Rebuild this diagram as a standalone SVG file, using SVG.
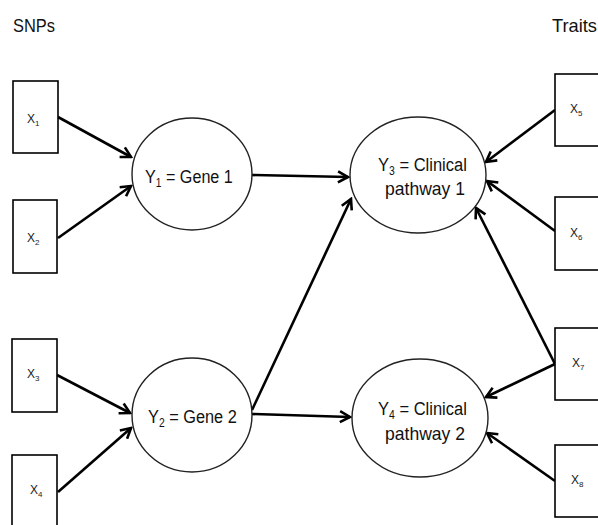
<svg xmlns="http://www.w3.org/2000/svg" width="598" height="525" viewBox="0 0 598 525">
<defs>
<marker id="arr" viewBox="-12 -7 14 14" refX="0" refY="0" markerWidth="14" markerHeight="14" markerUnits="userSpaceOnUse" orient="auto">
<path d="M-10,-5.5 L0,0 L-10,5.5" fill="none" stroke="#000" stroke-width="2.6" stroke-linejoin="miter"/>
</marker>
</defs>
<style>
.box{fill:#fff;stroke:#000;stroke-width:1.6}
.ell{fill:#fff;stroke:#222;stroke-width:1.4}
.lbl{font-family:"Liberation Sans",Arial,sans-serif;font-size:19px;fill:#111}
.xl{font-family:"Liberation Sans",Arial,sans-serif;font-size:12px;fill:#222}
.sub{font-size:12px}
.xsub{font-size:8px}
.edge{stroke:#000;stroke-width:2.6;fill:none;marker-end:url(#arr)}
</style>
<rect width="598" height="525" fill="#fff"/>
<text class="lbl" x="13" y="32" textLength="42" lengthAdjust="spacingAndGlyphs">SNPs</text>
<text class="lbl" x="552" y="32" textLength="45" lengthAdjust="spacingAndGlyphs">Traits</text>
<g id="connectors">
<line class="edge" x1="58" y1="117" x2="131" y2="157"/>
<line class="edge" x1="58" y1="238" x2="131" y2="186"/>
<line class="edge" x1="57" y1="375" x2="130" y2="413"/>
<line class="edge" x1="58" y1="492" x2="131" y2="428"/>
<line class="edge" x1="252" y1="175" x2="348" y2="177"/>
<line class="edge" x1="252" y1="410" x2="351" y2="199"/>
<line class="edge" x1="252" y1="414" x2="350" y2="417"/>
<line class="edge" x1="555" y1="110" x2="486" y2="162"/>
<line class="edge" x1="555" y1="231" x2="487" y2="181"/>
<line class="edge" x1="555" y1="364" x2="476" y2="208"/>
<line class="edge" x1="555" y1="364" x2="486" y2="397"/>
<line class="edge" x1="555" y1="481" x2="487" y2="433"/>
</g>
<g id="X1"><rect class="box" x="13" y="81" width="45" height="72"/><text class="xl" x="27" y="123">X<tspan class="xsub" dy="3">1</tspan></text></g>
<g id="X2"><rect class="box" x="13" y="200" width="44" height="73"/><text class="xl" x="27" y="242">X<tspan class="xsub" dy="3">2</tspan></text></g>
<g id="X3"><rect class="box" x="12" y="339" width="45" height="73"/><text class="xl" x="27" y="378">X<tspan class="xsub" dy="3">3</tspan></text></g>
<g id="X4"><rect class="box" x="12" y="455" width="45" height="75"/><text class="xl" x="30" y="494">X<tspan class="xsub" dy="3">4</tspan></text></g>
<g id="X5"><rect class="box" x="555" y="74" width="50" height="72"/><text class="xl" x="570" y="113">X<tspan class="xsub" dy="3">5</tspan></text></g>
<g id="X6"><rect class="box" x="555" y="197" width="50" height="73"/><text class="xl" x="570" y="237">X<tspan class="xsub" dy="3">6</tspan></text></g>
<g id="X7"><rect class="box" x="555" y="328" width="50" height="72"/><text class="xl" x="572" y="367">X<tspan class="xsub" dy="3">7</tspan></text></g>
<g id="X8"><rect class="box" x="555" y="445" width="50" height="72"/><text class="xl" x="571" y="484">X<tspan class="xsub" dy="3">8</tspan></text></g>
<g id="Y1"><ellipse class="ell" cx="192" cy="174" rx="60" ry="56"/><text class="lbl" transform="translate(145,183) scale(0.85,1)">Y<tspan class="sub" dy="4">1</tspan><tspan dy="-4"> = Gene 1</tspan></text></g>
<g id="Y2"><ellipse class="ell" cx="192" cy="415" rx="60" ry="57"/><text class="lbl" transform="translate(148,423) scale(0.86,1)">Y<tspan class="sub" dy="4">2</tspan><tspan dy="-4"> = Gene 2</tspan></text></g>
<g id="Y3"><ellipse class="ell" cx="418" cy="175" rx="68" ry="58"/><text class="lbl" transform="translate(378,171) scale(0.87,1)">Y<tspan class="sub" dy="4">3</tspan><tspan dy="-4"> = Clinical</tspan></text><text class="lbl" x="385" y="195" textLength="80" lengthAdjust="spacingAndGlyphs">pathway 1</text></g>
<g id="Y4"><ellipse class="ell" cx="420" cy="418" rx="68" ry="59"/><text class="lbl" transform="translate(378,415) scale(0.87,1)">Y<tspan class="sub" dy="4">4</tspan><tspan dy="-4"> = Clinical</tspan></text><text class="lbl" x="385" y="440" textLength="80" lengthAdjust="spacingAndGlyphs">pathway 2</text></g>
</svg>
